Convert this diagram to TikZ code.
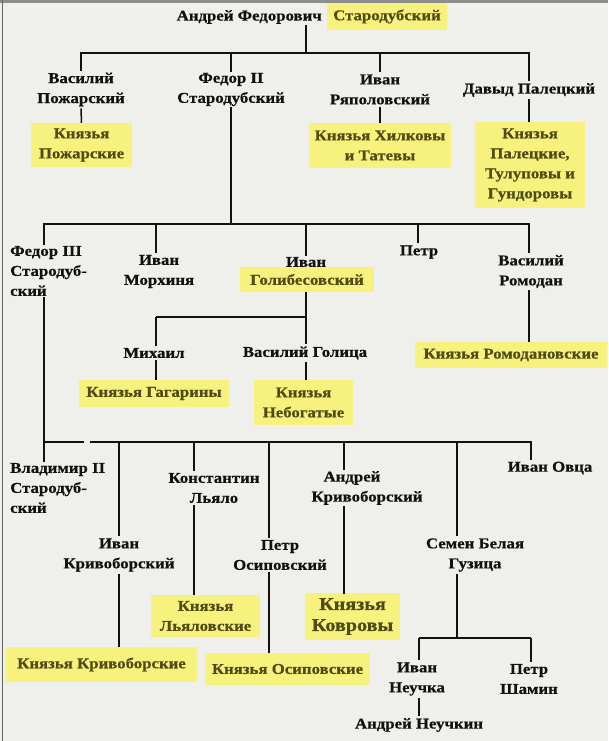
\documentclass[tikz,border=0pt]{standalone}
\usepackage{fontspec}
\setmainfont{Liberation Serif}[FakeStretch=1.12, BoldFeatures={FakeStretch=1.12, FakeBold=0.6}]
\definecolor{bg}{HTML}{EFEFEC}
\definecolor{ink}{HTML}{111111}
\definecolor{hlfill}{HTML}{F7F27E}
\definecolor{hltext}{HTML}{4F4B12}
\definecolor{edge}{HTML}{8E8E8E}
\tikzset{
  person/.style={font=\fontsize{15}{20}\selectfont\bfseries, text=ink, align=center, inner sep=2pt},
  clan/.style={fill=hlfill, font=\fontsize{15}{20}\selectfont\bfseries, text=hltext, align=center, inner sep=0pt},
  bigclan/.style={clan, font=\fontsize{18}{21}\selectfont\bfseries},
  heavy/.style={draw=ink, line width=2.9pt, line cap=rect},
  light/.style={draw=ink, line width=2pt},
  fine/.style={draw=ink, line width=1.5pt}
}
\begin{document}
\begin{tikzpicture}[x=1pt,y=-1pt]
\fill[bg] (0,0) rectangle (608,741);
\useasboundingbox (0,0) rectangle (608,741);
\fill[edge] (0,0) rectangle (608,3);
\draw[edge!70!black, line width=1pt] (2,0) -- (2,741);

% ---- generation 0
\node[clan, minimum width=120pt, minimum height=27pt] (a0s) at (387,16.5) {Стародубский};
\node[person, anchor=east] (a0) at (324,17) {Андрей Федорович};
\coordinate (J0) at (306,53);

% ---- generation 1
\node[person] (b1) at (81,89.5) {Василий\\Пожарский};
\node[person] (b2) at (231,89.5) {Федор II\\Стародубский};
\node[person] (b3) at (380,89.5) {Иван\\Ряполовский};
\node[person] (b4) at (529,90) {Давыд Палецкий};

\node[clan, minimum width=101pt, minimum height=44pt] (h1) at (81.5,145) {Князья\\Пожарские};
\node[clan, minimum width=142pt, minimum height=45pt] (h2) at (380,145.5) {Князья Хилковы\\и Татевы};
\node[clan, minimum width=110pt, minimum height=86pt] (h3) at (530,165) {Князья\\Палецкие,\\Тулуповы и\\Гундоровы};

\draw[heavy] (J0) -- (J0 |- a0.south);
\draw[heavy] (b1.north |- J0) -- (b4.north |- J0);
\draw[light] (b1.north |- J0) -- (b1.north);
\draw[heavy] (b2.north |- J0) -- (b2.north);
\draw[light] (b3.north |- J0) -- (b3.north);
\draw[light] (b4.north |- J0) -- (b4.north);
\draw[fine] (b1.south) -- (h1.north);
\draw[fine] (b3.south) -- (h2.north);
\draw[fine] (b4.south) -- (b4.south |- h3.north);

% ---- generation 2
\coordinate (J1) at (232,224);
\node[person, anchor=west, align=left] (c1) at (8,271) {Федор III\\Стародуб-\\ский};
\node[person] (c2) at (159,271.5) {Иван\\Морхиня};
\node[person] (c3a) at (306,262) {Иван};
\node[clan, minimum width=134pt, minimum height=25pt] (c3) at (307,279.5) {Голибесовский};
\node[person] (c4) at (419,252) {Петр};
\node[person] (c5) at (531,271.5) {Василий\\Ромодан};
\coordinate (x44) at (44,0);
\coordinate (x156) at (156,0);
\coordinate (x306) at (306,0);
\coordinate (x418) at (418,0);
\coordinate (x529) at (529,0);

\draw[heavy] (b2.south) -- (b2.south |- J1);
\draw[heavy] (x44 |- J1) -- (x529 |- J1);
\draw[heavy] (x44 |- J1) -- (x44 |- c1.north);
\draw[light] (x156 |- J1) -- (x156 |- c2.north);
\draw[heavy] (x306 |- J1) -- (x306 |- c3a.north);
\draw[light] (x418 |- J1) -- (x418 |- c4.north);
\draw[light] (x529 |- J1) -- (x529 |- c5.north);

% ---- sons of Ivan Golibesovsky
\coordinate (J2) at (306,317);
\node[person] (d1) at (154,353) {Михаил};
\node[person] (d2) at (305,353) {Василий Голица};
\node[clan, minimum width=150pt, minimum height=27pt] (h5) at (154,393.5) {Князья Гагарины};
\node[clan, minimum width=99pt, minimum height=45pt] (h6) at (303.5,402.5) {Князья\\Небогатые};
\node[clan, minimum width=192pt, minimum height=26pt] (h4) at (511,355) {Князья Ромодановские};

\draw[light] (x306 |- c3.south) -- (x306 |- d2.north);
\draw[light] (x156 |- J2) -- (J2);
\draw[light] (x156 |- J2) -- (x156 |- d1.north);
\draw[fine] (x156 |- d1.south) -- (x156 |- h5.north);
\draw[fine] (x306 |- d2.south) -- (x306 |- h6.north);
\draw[fine] (x529 |- c5.south) -- (x529 |- h4.north);

% ---- sons of Fedor III
\coordinate (J3) at (44,442);
\node[person, anchor=west, align=left] (e1) at (8,488) {Владимир II\\Стародуб-\\ский};
\node[person] (e2) at (214,488) {Константин\\Льяло};
\node[person] (e3) at (367,488) {Андрей\hspace*{30pt}\\Кривоборский};
\node[person] (e4) at (550,468) {Иван Овца};
\node[person] (f1) at (119,555) {Иван\\Кривоборский};
\node[person] (f2) at (280,555) {Петр\\Осиповский};
\node[person] (f3) at (475,555) {Семен Белая\\Гузица};
\coordinate (x119) at (119,0);
\coordinate (x194) at (194,0);
\coordinate (x269) at (269,0);
\coordinate (x344) at (344,0);
\coordinate (x457) at (457,0);
\coordinate (x531) at (531,0);
\coordinate (gapL) at (83,442);
\coordinate (gapR) at (91,442);

\draw[heavy] (x44 |- c1.south) -- (J3);
\draw[heavy] (J3) -- (gapL);
\draw[heavy] (gapR) -- (x531 |- J3);
\draw[heavy] (J3) -- (J3 |- e1.north);
\draw[light] (x119 |- J3) -- (x119 |- f1.north);
\draw[light] (x194 |- J3) -- (x194 |- e2.north);
\draw[light] (x269 |- J3) -- (x269 |- f2.north);
\draw[heavy] (x344 |- J3) -- (x344 |- e3.north);
\draw[light] (x457 |- J3) -- (x457 |- f3.north);
\draw[light] (x531 |- J3) -- (x531 |- e4.north);

\node[clan, minimum width=109pt, minimum height=42pt] (h7) at (205.5,616) {Князья\\Льяловские};
\node[bigclan, minimum width=95pt, minimum height=47pt] (h8) at (352.5,616.5) {Князья\\Ковровы};
\node[clan, minimum width=191pt, minimum height=35pt] (h9) at (101.5,664.5) {Князья Кривоборские};
\node[clan, minimum width=165pt, minimum height=32pt] (h10) at (287.5,669) {Князья Осиповские};

\draw[light] (x194 |- e2.south) -- (x194 |- h7.north);
\draw[heavy] (x344 |- e3.south) -- (x344 |- h8.north);
\draw[light] (x119 |- f1.south) -- (x119 |- h9.north);
\draw[light] (x269 |- f2.south) -- (x269 |- h10.north);

% ---- sons of Semen Belaya Guzitsa
\coordinate (J4) at (457,638);
\node[person] (g1) at (417,679) {Иван\\Неучка};
\node[person] (g2) at (529,679) {Петр\\Шамин};
\node[person] (g3) at (419,725) {Андрей Неучкин};
\coordinate (x419) at (419,0);

\draw[light] (x457 |- f3.south) -- (J4);
\draw[light] (x419 |- J4) -- (x531 |- J4);
\draw[light] (x419 |- J4) -- (x419 |- g1.north);
\draw[light] (x531 |- J4) -- (x531 |- g2.north);
\draw[fine] (x419 |- g1.south) -- (x419 |- g3.north);
\end{tikzpicture}
\end{document}
